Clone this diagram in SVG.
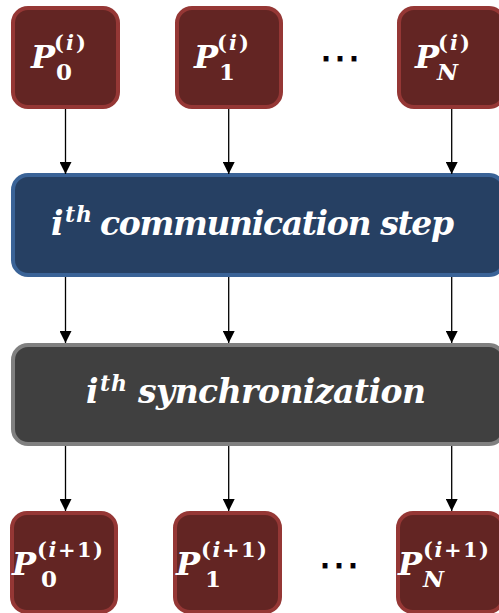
<svg xmlns="http://www.w3.org/2000/svg" width="499" height="613" viewBox="0 0 499 613">
<defs>
<style>
.proc rect{fill:#632523;stroke:#953735;stroke-width:4}
.comm rect{fill:#264063;stroke:#3a6397;stroke-width:4}
.sync rect{fill:#404040;stroke:#808080;stroke-width:4}
text{font-family:"DejaVu Serif","Liberation Serif",serif;font-weight:bold;fill:#ffffff}
.P{font-size:32px;font-style:italic}
.sup{font-size:21px}
.sub{font-size:23px}
.it{font-style:italic}
.big{font-size:33px;font-style:italic}
.thsup{font-size:22px;font-style:italic}
.dots{font-family:"DejaVu Sans",sans-serif;font-size:42px;fill:#000000;stroke:#000000;stroke-width:0.4;font-weight:normal}
#connectors line{stroke:#000;stroke-width:1.3}
</style>
<marker id="ah" viewBox="0 0 12 12" refX="12" refY="6" markerWidth="12" markerHeight="12" markerUnits="userSpaceOnUse" orient="auto">
<path d="M0,0 L12,6 L0,12 Z" fill="#000"/>
</marker>
</defs>
<rect width="499" height="613" fill="#ffffff"/>

<g id="p0i" class="proc">
<rect x="13" y="8" width="105" height="99" rx="15"/>
<text class="P" x="31" y="68">P</text>
<text class="sup" x="54" y="50" textLength="32" lengthAdjust="spacing">(<tspan class="it">i</tspan>)</text>
<text class="sub" x="56" y="80">0</text>
</g>
<g id="p1i" class="proc">
<rect x="177" y="8" width="104" height="99" rx="15"/>
<text class="P" x="194" y="68">P</text>
<text class="sup" x="217" y="50" textLength="32" lengthAdjust="spacing">(<tspan class="it">i</tspan>)</text>
<text class="sub" x="219" y="80">1</text>
</g>
<g id="dots-top"><text class="dots" x="340" y="72" text-anchor="middle">⋯</text></g>
<g id="pNi" class="proc">
<rect x="399" y="8" width="105" height="99" rx="15"/>
<text class="P" x="415" y="68">P</text>
<text class="sup" x="438" y="50" textLength="32" lengthAdjust="spacing">(<tspan class="it">i</tspan>)</text>
<text class="sub it" x="437" y="80">N</text>
</g>

<g id="comm" class="comm">
<rect x="13" y="175" width="491" height="100" rx="15"/>
<text class="big" x="51" y="235">i</text>
<text class="thsup" x="65" y="222" textLength="27" lengthAdjust="spacing">th</text>
<text class="big" x="100" y="235" textLength="354" lengthAdjust="spacing">communication step</text>
</g>

<g id="sync" class="sync">
<rect x="13" y="345" width="491" height="99" rx="15"/>
<text class="big" x="86" y="403">i</text>
<text class="thsup" x="100" y="391" textLength="27" lengthAdjust="spacing">th</text>
<text class="big" x="138" y="403" textLength="288" lengthAdjust="spacing">synchronization</text>
</g>

<g id="p0n" class="proc">
<rect x="12" y="513" width="104" height="99" rx="15"/>
<text class="P" x="12" y="575">P</text>
<text class="sup" x="37" y="557" textLength="66" lengthAdjust="spacing">(<tspan class="it">i</tspan>+1)</text>
<text class="sub" x="41" y="587">0</text>
</g>
<g id="p1n" class="proc">
<rect x="175" y="513" width="105" height="99" rx="15"/>
<text class="P" x="176" y="575">P</text>
<text class="sup" x="201" y="557" textLength="66" lengthAdjust="spacing">(<tspan class="it">i</tspan>+1)</text>
<text class="sub" x="205" y="587">1</text>
</g>
<g id="dots-bot"><text class="dots" x="339" y="579" text-anchor="middle">⋯</text></g>
<g id="pNn" class="proc">
<rect x="398" y="513" width="105" height="99" rx="15"/>
<text class="P" x="398" y="575">P</text>
<text class="sup" x="423" y="557" textLength="66" lengthAdjust="spacing">(<tspan class="it">i</tspan>+1)</text>
<text class="sub it" x="423" y="587">N</text>
</g>

<g id="connectors">
<line x1="65.5" y1="109" x2="65.5" y2="174" marker-end="url(#ah)"/>
<line x1="228.7" y1="109" x2="228.7" y2="174" marker-end="url(#ah)"/>
<line x1="451.7" y1="109" x2="451.7" y2="174" marker-end="url(#ah)"/>
<line x1="65.5" y1="277" x2="65.5" y2="343" marker-end="url(#ah)"/>
<line x1="228.7" y1="277" x2="228.7" y2="343" marker-end="url(#ah)"/>
<line x1="451.7" y1="277" x2="451.7" y2="343" marker-end="url(#ah)"/>
<line x1="65.5" y1="446" x2="65.5" y2="511" marker-end="url(#ah)"/>
<line x1="228.7" y1="446" x2="228.7" y2="511" marker-end="url(#ah)"/>
<line x1="451.7" y1="446" x2="451.7" y2="511" marker-end="url(#ah)"/>
</g>
</svg>
